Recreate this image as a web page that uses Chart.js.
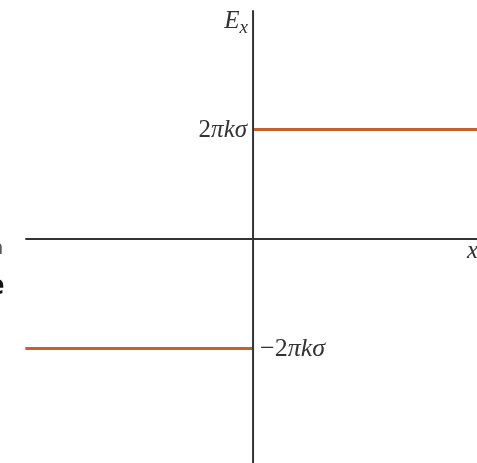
<!DOCTYPE html>
<html>
<head>
<meta charset="utf-8">
<script src="https://cdn.jsdelivr.net/npm/chart.js@4/dist/chart.umd.min.js"></script>
<style>
  html, body { margin: 0; padding: 0; background: #ffffff; }
  #wrap { width: 477px; height: 463px; }
</style>
</head>
<body>
<div id="wrap"><canvas id="c" width="477" height="463"></canvas></div>
<script>
// Field of an infinite charged plane: E_x is constant on each side, flipping sign at x = 0.
const leftX = [-0.9, 0];
const leftE = [-1, -1];
const rightX = [0, 0.885];
const rightE = [1, 1];

// Coordinate axes drawn through the origin
const xAxisX = [-0.9, 0.885];
const xAxisY = [0, 0];
const yAxisX = [0, 0];
const yAxisY = [-2.05, 2.09];

// Tick labels on the E_x axis (values in units of 2πkσ)
const tickValues = [1, -1];
const tickLabels = ['2πkσ', '−2πkσ'];
const axisTitles = ['E', 'x'];

const pts = (xs, ys) => xs.map((x, i) => ({ x, y: ys[i] }));

const ORANGE = '#c8602c';
const AXIS = '#333333';
const SERIF = '"Liberation Serif", "DejaVu Serif", serif';

// Draws a run of text pieces, each with its own font, starting at (x, y).
function drawRuns(ctx, runs, x, y, align) {
  let total = 0;
  runs.forEach(r => { ctx.font = r.font; total += ctx.measureText(r.t).width; });
  let cx = align === 'right' ? x - total : x;
  ctx.textAlign = 'left';
  runs.forEach(r => {
    ctx.font = r.font;
    ctx.fillText(r.t, cx, y + (r.dy || 0));
    cx += ctx.measureText(r.t).width;
  });
}

function tickRuns(label, size) {
  const up = 'normal ' + size + 'px ' + SERIF;
  const it = 'italic ' + size + 'px ' + SERIF;
  const m = label.match(/^([−\-]?2)(.*)$/);
  return [{ t: m[1], font: up }, { t: m[2], font: it }];
}

const labelPlugin = {
  id: 'fieldLabels',
  afterDatasetsDraw(chart) {
    const { ctx, scales: { x, y } } = chart;
    const x0 = x.getPixelForValue(0);
    ctx.save();
    ctx.fillStyle = AXIS;
    ctx.textBaseline = 'middle';
    tickValues.forEach((v, i) => {
      const py = y.getPixelForValue(v) + 1;
      if (v > 0) drawRuns(ctx, tickRuns(tickLabels[i], 25), x0 - 6, py, 'right');
      else drawRuns(ctx, tickRuns(tickLabels[i], 26), x0 + 7, py, 'left');
    });
    // axis titles
    ctx.textBaseline = 'alphabetic';
    drawRuns(ctx, [
      { t: axisTitles[0], font: 'italic 25px ' + SERIF },
      { t: axisTitles[1], font: 'italic 19px ' + SERIF, dy: 5 }
    ], x0 - 5, y.getPixelForValue(yAxisY[1]) + 18, 'right');
    ctx.font = 'italic 25px ' + SERIF;
    ctx.textAlign = 'right';
    ctx.fillText(axisTitles[1], chart.width + 1, y.getPixelForValue(0) + 19);
    // clipped fragments of neighbouring text at the left edge
    ctx.fillStyle = '#111111';
    ctx.textAlign = 'left';
    ctx.font = 'bold 26px "Open Sans", sans-serif';
    ctx.fillText('e', -11, 294);
    ctx.fillStyle = '#555555';
    ctx.font = '20px "Open Sans", sans-serif';
    ctx.fillText('n', -9, 254);
    ctx.restore();
  }
};

new Chart(document.getElementById('c'), {
  type: 'line',
  data: {
    datasets: [
      { data: pts(xAxisX, xAxisY), borderColor: AXIS, borderWidth: 2, pointRadius: 0 },
      { data: pts(yAxisX, yAxisY), borderColor: AXIS, borderWidth: 2, pointRadius: 0 },
      { data: pts(leftX, leftE), borderColor: ORANGE, borderWidth: 3, pointRadius: 0 },
      { data: pts(rightX, rightE), borderColor: ORANGE, borderWidth: 3, pointRadius: 0 }
    ]
  },
  options: {
    responsive: false,
    animation: false,
    devicePixelRatio: 1,
    layout: { padding: 0 },
    plugins: { legend: { display: false }, tooltip: { enabled: false } },
    scales: {
      x: { type: 'linear', min: -1.0, max: 0.885, display: false },
      y: { type: 'linear', min: -2.046, max: 2.183, display: false }
    }
  },
  plugins: [labelPlugin]
});
</script>
</body>
</html>
